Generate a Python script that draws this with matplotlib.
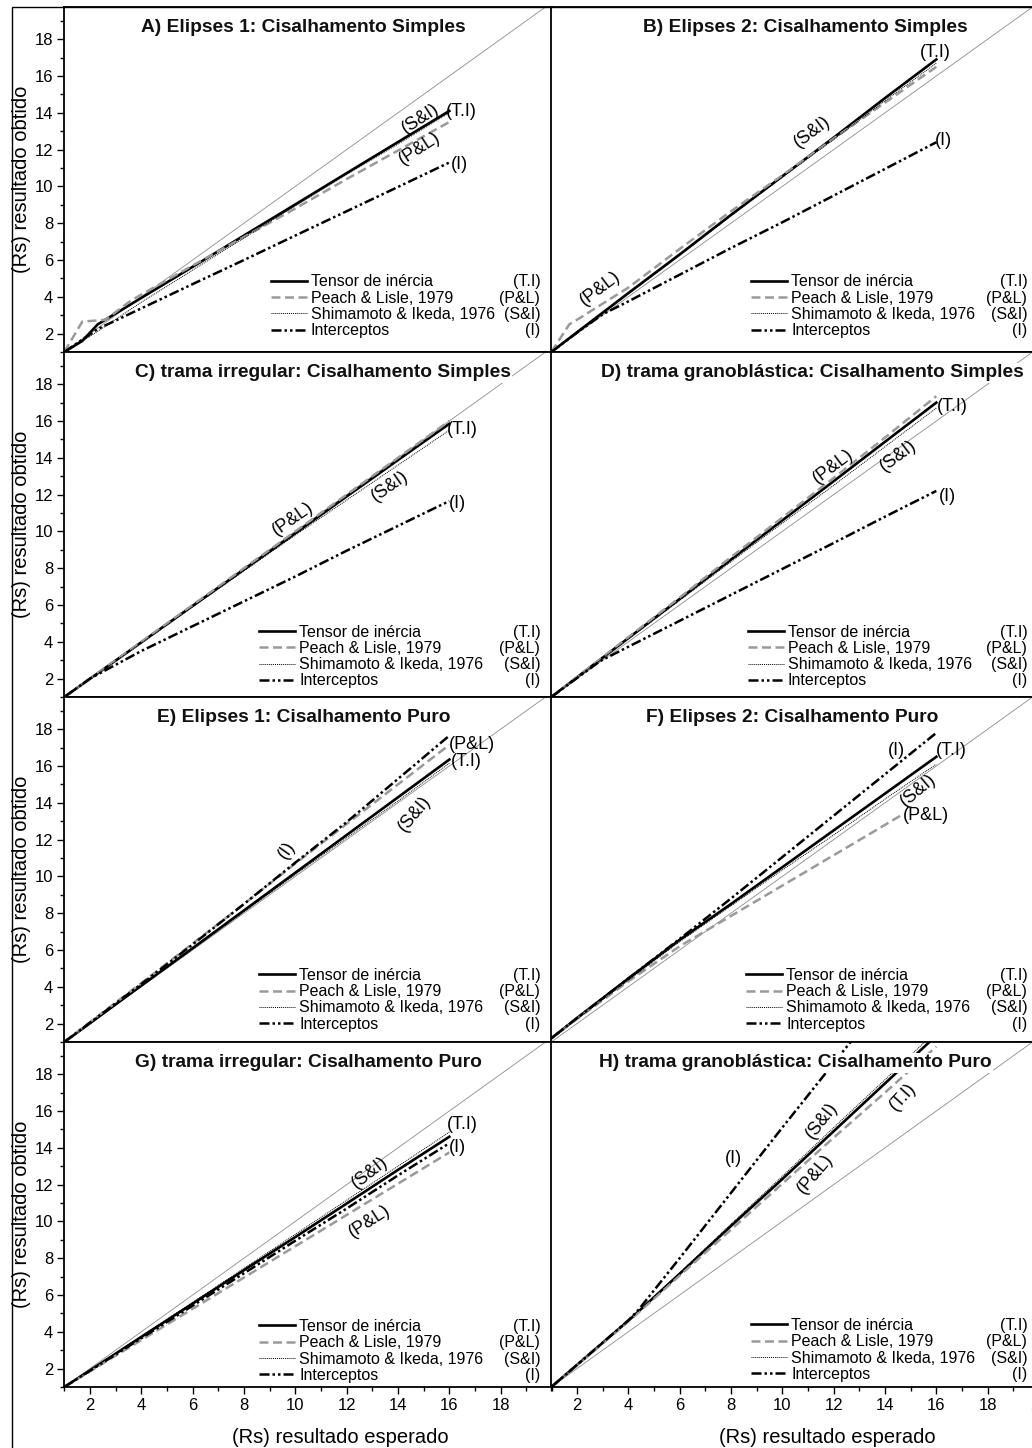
import matplotlib.pyplot as plt
from matplotlib.ticker import MultipleLocator, FixedLocator
from matplotlib.patches import Rectangle

plt.rcParams['font.family'] = ['Liberation Sans', 'DejaVu Sans']

# valores (x = Rs esperado, y = Rs obtido)
x_std = [1, 2, 4, 6, 8, 10, 12, 14, 16]

# A) Elipses 1: Cisalhamento Simples
a_x_ti = [1, 1.7, 2.3, 4, 6, 8, 10, 12, 14, 16]
a_ti = [1, 1.6, 2.5, 3.94, 5.63, 7.33, 9.02, 10.72, 12.41, 14.1]
a_x_pl = [1, 1.7, 2.6, 3.6, 6, 8, 10, 12, 14, 16]
a_pl = [1, 2.65, 2.75, 3.8, 5.7, 7.25, 8.8, 10.4, 11.95, 13.5]
a_si = [1, 1.85, 3.7, 5.45, 7.2, 8.95, 10.65, 12.3, 14.0]
a_x_i = [1, 2.3, 4, 6, 8, 10, 12, 14, 16]
a_i = [1, 2.25, 3.37, 4.69, 6.0, 7.33, 8.65, 9.97, 11.3]

# B) Elipses 2: Cisalhamento Simples
b_ti = [1, 2.07, 4.2, 6.3, 8.45, 10.55, 12.65, 14.8, 16.9]
b_x_pl = [1, 1.7, 2, 4, 6, 8, 10, 12, 14, 16]
b_pl = [1, 2.5, 2.75, 4.5, 6.6, 8.65, 10.6, 12.6, 14.55, 16.5]
b_si = [1, 2.05, 4.15, 6.25, 8.4, 10.5, 12.55, 14.65, 16.7]
b_x_i = [1, 2, 3, 4, 6, 8, 10, 12, 14, 16]
b_i = [1, 2.05, 3.05, 3.75, 5.2, 6.65, 8.05, 9.5, 10.95, 12.4]

# C) trama irregular: Cisalhamento Simples
c_ti = [1, 1.99, 3.97, 5.95, 7.93, 9.9, 11.9, 13.88, 15.85]
c_pl = [1, 2.0, 4.0, 6.0, 8.0, 10.0, 12.0, 14.0, 16.0]
c_si = [1, 1.97, 3.93, 5.9, 7.85, 9.8, 11.7, 13.6, 15.5]
c_i = [1, 2.0, 3.5, 4.85, 6.2, 7.55, 8.95, 10.3, 11.65]

# D) trama granoblastica: Cisalhamento Simples
d_ti = [1, 2.07, 4.2, 6.33, 8.47, 10.6, 12.73, 14.87, 17.0]
d_pl = [1, 2.08, 4.25, 6.4, 8.6, 10.75, 12.9, 15.1, 17.35]
d_si = [1, 2.05, 4.15, 6.25, 8.35, 10.45, 12.5, 14.6, 16.7]
d_x_i = [1, 2.9, 4, 6, 8, 10, 12, 14, 16]
d_i = [1, 2.95, 3.73, 5.14, 6.55, 7.96, 9.37, 10.8, 12.2]

# E) Elipses 1: Cisalhamento Puro
e_ti = [1, 2.02, 4.07, 6.1, 8.15, 10.2, 12.25, 14.3, 16.35]
e_pl = [1, 2.08, 4.2, 6.35, 8.5, 10.7, 12.85, 15.0, 17.15]
e_si = [1, 2.0, 4.03, 6.05, 8.08, 10.1, 12.1, 14.1, 16.15]
e_i = [1, 2.05, 4.15, 6.3, 8.5, 10.75, 12.95, 15.3, 17.65]

# F) Elipses 2: Cisalhamento Puro
f_ti = [1.2, 2.3, 4.45, 6.55, 8.5, 10.5, 12.5, 14.5, 16.5]
f_x_pl = [1, 2, 4, 6, 8, 10, 12, 14, 14.6]
f_pl = [1.2, 2.25, 4.3, 6.2, 7.85, 9.5, 11.15, 12.8, 13.3]
f_si = [1.2, 2.25, 4.35, 6.45, 8.4, 10.35, 12.25, 14.2, 16.1]
f_i = [1.2, 2.3, 4.45, 6.6, 8.8, 11.05, 13.3, 15.55, 17.8]

# G) trama irregular: Cisalhamento Puro
g_ti = [1, 1.9, 3.72, 5.53, 7.35, 9.15, 10.97, 12.8, 14.6]
g_pl = [1, 1.85, 3.55, 5.25, 6.95, 8.65, 10.35, 12.05, 13.75]
g_si = [1, 1.92, 3.77, 5.6, 7.45, 9.3, 11.15, 13.0, 14.85]
g_i = [1, 1.88, 3.65, 5.42, 7.18, 8.95, 10.7, 12.5, 14.25]

# H) trama granoblastica: Cisalhamento Puro
h_ti = [1, 2.2, 4.6, 7.15, 9.75, 12.3, 14.9, 17.5, 20.1]
h_pl = [1, 2.18, 4.55, 7.05, 9.55, 12.05, 14.55, 17.0, 19.5]
h_si = [1, 2.2, 4.62, 7.2, 9.85, 12.45, 15.1, 17.7, 20.35]
h_x_i = [1, 2, 4, 4.4, 6, 8, 10, 12, 14, 16]
h_i = [1, 2.2, 4.62, 5.2, 8.0, 11.55, 15.1, 18.6, 22.1, 25.7]

titles = ['A) Elipses 1: Cisalhamento Simples',
          'B) Elipses 2: Cisalhamento Simples',
          'C) trama irregular: Cisalhamento Simples',
          'D) trama granoblástica: Cisalhamento Simples',
          'E) Elipses 1: Cisalhamento Puro',
          'F) Elipses 2: Cisalhamento Puro',
          'G) trama irregular: Cisalhamento Puro',
          'H) trama granoblástica: Cisalhamento Puro']
title_x = [0.49, 0.52, 0.53, 0.535, 0.49, 0.493, 0.50, 0.50]

names = ['Tensor de inércia', 'Peach & Lisle, 1979',
         'Shimamoto & Ikeda, 1976', 'Interceptos']
abbrs = ['(T.I)', '(P&L)', '(S&I)', '(I)']

# (texto, x, y, rotacao, ha) dos rotulos junto as linhas
a_labels = [('(S&I)', 14.88, 13.7, 33, 'center'), ('(T.I)', 15.85, 14.08, 0, 'left'),
            ('(P&L)', 14.84, 12.05, 33, 'center'), ('(I)', 16.05, 11.2, 0, 'left')]
b_labels = [('(T.I)', 15.95, 17.27, 0, 'center'), ('(S&I)', 11.15, 12.98, 37, 'center'),
            ('(P&L)', 2.9, 4.46, 37, 'center'), ('(I)', 15.95, 12.5, 0, 'left')]
c_labels = [('(T.I)', 15.9, 15.53, 0, 'left'), ('(P&L)', 9.9, 10.7, 35, 'center'),
            ('(S&I)', 13.67, 12.44, 35, 'center'), ('(I)', 16.0, 11.5, 0, 'left')]
d_labels = [('(T.I)', 16.02, 16.8, 0, 'left'), ('(P&L)', 11.97, 13.55, 37, 'center'),
            ('(S&I)', 14.5, 14.1, 37, 'center'), ('(I)', 16.1, 11.9, 0, 'left')]
e_labels = [('(P&L)', 16.0, 17.16, 0, 'left'), ('(T.I)', 16.07, 16.25, 0, 'left'),
            ('(S&I)', 14.65, 13.4, 50, 'center'), ('(I)', 9.67, 11.45, 55, 'center')]
f_labels = [('(I)', 14.46, 16.84, 0, 'center'), ('(T.I)', 15.98, 16.84, 0, 'left'),
            ('(S&I)', 15.3, 14.7, 40, 'center'), ('(P&L)', 14.7, 13.3, 0, 'left')]
g_labels = [('(T.I)', 15.9, 15.24, 0, 'left'), ('(I)', 16.0, 14.04, 0, 'left'),
            ('(S&I)', 12.9, 12.63, 38, 'center'), ('(P&L)', 12.9, 10.0, 33, 'center')]
h_labels = [('(I)', 8.08, 13.4, 0, 'center'), ('(S&I)', 11.54, 15.5, 52, 'center'),
            ('(T.I)', 14.7, 16.75, 48, 'center'), ('(P&L)', 11.27, 12.56, 50, 'center')]

panels = [
    dict(ti=(a_x_ti, a_ti), pl=(a_x_pl, a_pl), si=(x_std, a_si), i=(a_x_i, a_i), labels=a_labels),
    dict(ti=(x_std, b_ti), pl=(b_x_pl, b_pl), si=(x_std, b_si), i=(b_x_i, b_i), labels=b_labels),
    dict(ti=(x_std, c_ti), pl=(x_std, c_pl), si=(x_std, c_si), i=(x_std, c_i), labels=c_labels),
    dict(ti=(x_std, d_ti), pl=(x_std, d_pl), si=(x_std, d_si), i=(d_x_i, d_i), labels=d_labels),
    dict(ti=(x_std, e_ti), pl=(x_std, e_pl), si=(x_std, e_si), i=(x_std, e_i), labels=e_labels),
    dict(ti=(x_std, f_ti), pl=(f_x_pl, f_pl), si=(x_std, f_si), i=(x_std, f_i), labels=f_labels),
    dict(ti=(x_std, g_ti), pl=(x_std, g_pl), si=(x_std, g_si), i=(x_std, g_i), labels=g_labels),
    dict(ti=(x_std, h_ti), pl=(x_std, h_pl), si=(x_std, h_si), i=(h_x_i, h_i), labels=h_labels),
]
legend_x = [0.423, 0.41, 0.40, 0.403, 0.40, 0.40, 0.40, 0.41]
legend_y = [0.040, 0.040, 0.025, 0.025, 0.030, 0.030, 0.012, 0.015]

styles = {
    'ti': dict(color='black', lw=1.9, ls='-'),
    'pl': dict(color='#9a9a9a', lw=1.8, ls=(0, (3.6, 1.8))),
    'si': dict(color='black', lw=0.7, ls=(0, (1, 1))),
    'i': dict(color='black', lw=1.8, ls=(0, (4, 1.2, 1, 1.2, 1, 1.2))),
}

W, H = 1032, 1448
fig = plt.figure(figsize=(W / 100, H / 100), dpi=100)

col_left = [64.3, 551.3]
ax_w = 487.7
row_top = 7
row_h = 345

axes = []
legends = []
for k, p in enumerate(panels):
    r, c = divmod(k, 2)
    bottom = H - (row_top + row_h * (r + 1))
    ax = fig.add_axes([col_left[c] / W, bottom / H, ax_w / W, row_h / H])
    axes.append(ax)

    ax.plot([1, 20], [1, 20], color='#8c8c8c', lw=0.6, zorder=1)
    handles = []
    for key in ['ti', 'pl', 'si', 'i']:
        xs, ys = p[key]
        ln, = ax.plot(xs, ys, zorder=2, **styles[key])
        handles.append(ln)

    ax.set_xlim(1, 20)
    ax.set_ylim(1, 19.75)

    for s in ax.spines.values():
        s.set_linewidth(1.3)

    ax.text(title_x[k], 0.94, titles[k], transform=ax.transAxes, ha='center', va='center',
            fontsize=13.8, fontweight='bold', color='#111111', zorder=5,
            bbox=dict(facecolor='white', edgecolor='none', pad=1))

    for txt, tx, ty, rot, ha in p['labels']:
        ax.text(tx, ty, txt, fontsize=13, rotation=rot, ha=ha, va='center',
                rotation_mode='anchor', zorder=4)

    leg = ax.legend(handles, names, loc='lower left', bbox_to_anchor=(legend_x[k], legend_y[k]),
                    frameon=False, fontsize=11.5, labelspacing=0.08, handlelength=2.25,
                    handletextpad=0.25, borderpad=0, borderaxespad=0)
    legends.append(leg)

    # eixo y
    if c == 0:
        ax.yaxis.set_major_locator(FixedLocator(range(2, 19, 2)))
        ax.yaxis.set_minor_locator(MultipleLocator(1))
        ax.tick_params(axis='y', which='both', direction='out', left=True, right=False,
                       labelsize=12, pad=3)
        ax.tick_params(axis='y', which='major', length=5, width=1)
        ax.tick_params(axis='y', which='minor', length=3, width=1)
        ax.set_ylabel('(Rs) resultado obtido', fontsize=14.5)
        ax.yaxis.set_label_coords(-0.068, 0.5)
    else:
        ax.tick_params(axis='y', which='both', left=False, labelleft=False)

    # eixo x
    if r == 3:
        top = 19 if c == 0 else 21
        ax.xaxis.set_major_locator(FixedLocator(range(2, top, 2)))
        ax.xaxis.set_minor_locator(MultipleLocator(1))
        ax.tick_params(axis='x', which='both', direction='out', bottom=True, top=False,
                       labelsize=12, pad=3)
        ax.tick_params(axis='x', which='major', length=5, width=1)
        ax.tick_params(axis='x', which='minor', length=3, width=1)
        ax.set_xlabel('(Rs) resultado esperado', fontsize=14.5, va='center')
        ax.xaxis.set_label_coords(0.566, -0.145)
    else:
        ax.tick_params(axis='x', which='both', bottom=False, labelbottom=False)

# moldura externa
fig.patches.append(Rectangle((12 / W, -0.01), 1.1, 1 - 7 / H + 0.01,
                             transform=fig.transFigure, fill=False, edgecolor='black',
                             lw=1.0, clip_on=False))

# abreviaturas alinhadas a direita das entradas da legenda
fig.canvas.draw()
for ax, leg in zip(axes, legends):
    inv = ax.transAxes.inverted()
    for t, ab in zip(leg.get_texts(), abbrs):
        bb = t.get_window_extent()
        yc = inv.transform((0, (bb.y0 + bb.y1) / 2))[1]
        ax.text(0.976, yc, ab, transform=ax.transAxes, ha='right', va='center', fontsize=11.5)

fig.savefig('out.png', dpi=100)
